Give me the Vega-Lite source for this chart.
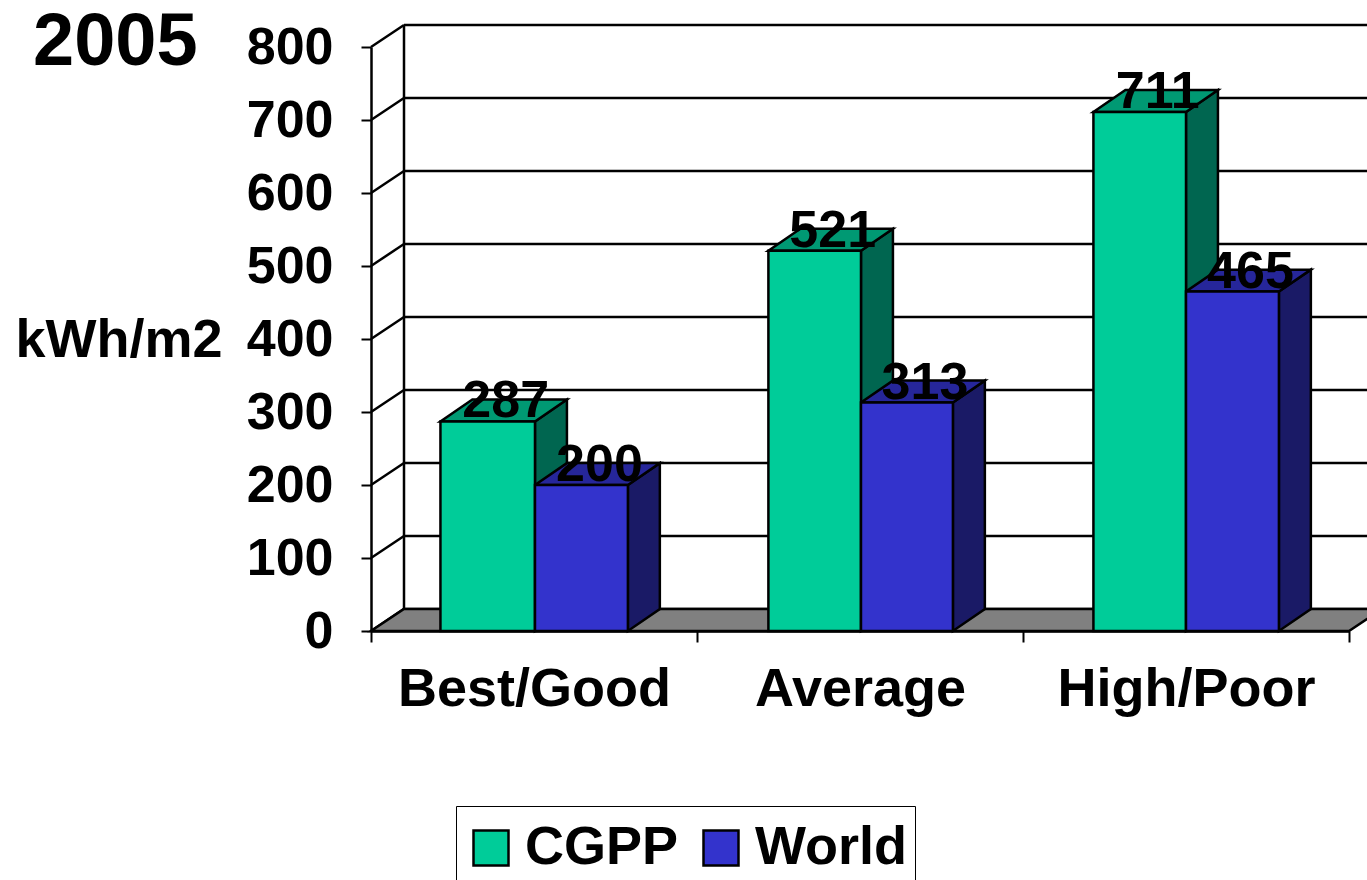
{
"$schema":"https://vega.github.io/schema/vega-lite/v6.json",
"width":978,"height":584,
"autosize":{"type":"none"},
"padding":{"left":371,"top":47,"right":18,"bottom":249},
"background":"white",
"title":{"text":"2005","fontSize":74,"font":"Liberation Sans","fontWeight":"bold","color":"black","anchor":"start","frame":"group","orient":"top","dx":-338,"dy":119,"offset":0,"baseline":"alphabetic"},
"datasets":{
"bars":[
{"category":"Best/Good","series":"CGPP","value":287},
{"category":"Best/Good","series":"World","value":200},
{"category":"Average","series":"CGPP","value":521},
{"category":"Average","series":"World","value":313},
{"category":"High/Poor","series":"CGPP","value":711},
{"category":"High/Poor","series":"World","value":465}],
"ticks":[{"tick":0},{"tick":100},{"tick":200},{"tick":300},{"tick":400},{"tick":500},{"tick":600},{"tick":700},{"tick":800}]
},
"config":{"view":{"stroke":null},"style":{"cell":{"clip":false}}},
"layer":[
{"data":{"name":"ticks"},
 "mark":{"type":"rule","color":"black","strokeWidth":2.5,"xOffset":33,"x2Offset":50,"yOffset":-22,"y2Offset":-22},
 "encoding":{
  "x":{"datum":0,"type":"quantitative","scale":{"domain":[0,3],"nice":false,"zero":false},
   "axis":{"values":[0,0.5,1,1.5,2,2.5,3],"title":null,"grid":false,"domainColor":"black","domainWidth":2.5,"tickColor":"black","tickWidth":2,"tickSize":11,
    "tickOpacity":{"condition":{"test":"datum.value % 1 === 0","value":1},"value":0},
    "labelExpr":"datum.value===0.5?'Best/Good':datum.value===1.5?'Average':datum.value===2.5?'High/Poor':''",
    "labelFont":"Liberation Sans","labelFontWeight":"bold","labelFontSize":54,"labelColor":"black","labelPadding":20,"labelLimit":500,"labelFlush":false,"labelOverlap":false}},
  "x2":{"datum":3},
  "y":{"field":"tick","type":"quantitative","scale":{"domain":[0,800],"nice":false},
   "axis":{"values":[0,100,200,300,400,500,600,700,800],"title":"kWh/m2","titleAngle":0,"titleFont":"Liberation Sans","titleFontWeight":"bold","titleFontSize":54,"titleColor":"black","titleX":-149,"titleY":309,"titleAlign":"right","titleBaseline":"alphabetic",
    "grid":false,"domainColor":"black","domainWidth":2.5,"tickColor":"black","tickWidth":2,"tickSize":10,"labelFont":"Liberation Sans","labelFontWeight":"bold","labelFontSize":52,"labelColor":"black","labelPadding":28}}
 }},
{"data":{"name":"ticks"},
 "mark":{"type":"rule","color":"black","strokeWidth":2.5,"x2Offset":33,"y2Offset":-22},
 "encoding":{"x":{"datum":0,"type":"quantitative"},"x2":{"datum":0},"y":{"field":"tick","type":"quantitative"},"y2":{"field":"tick"}}},
{"data":{"values":[{"tick":0},{"tick":800}]},
 "mark":{"type":"line","color":"black","strokeWidth":2.5,"xOffset":33,"yOffset":-22},
 "encoding":{"x":{"datum":0,"type":"quantitative"},"y":{"field":"tick","type":"quantitative"}}},
{"data":{"values":[{"depth":0},{"depth":30}]},
 "transform":[{"calculate":"datum.depth/30*0.1","as":"xa"},{"calculate":"3+datum.depth/30*0.1","as":"xb"}],
 "mark":{"type":"area","orient":"horizontal","fill":"#808080","stroke":"black","strokeWidth":2.5},
 "encoding":{"y":{"field":"depth","type":"quantitative"},"x":{"field":"xa","type":"quantitative"},"x2":{"field":"xb"}}},
{"data":{"name":"bars"},
 "transform":[
  {"calculate":"indexof(['Best/Good','Average','High/Poor'],datum.category)","as":"idx"},
  {"calculate":"datum.series==='CGPP'?[0.213,1.219,2.216][datum.idx]:[0.503,1.503,2.5][datum.idx]","as":"x1"},
  {"calculate":"datum.series==='CGPP'?[0.503,1.503,2.5][datum.idx]:[0.788,1.785,2.785][datum.idx]","as":"x2"},
  {"calculate":"(datum.x1+datum.x2)/2","as":"xc"},
  {"calculate":"datum.category+datum.series","as":"bar"}],
 "layer":[
  {"transform":[{"calculate":"[0,1]","as":"t"},{"flatten":["t"]},
    {"calculate":"datum.x2+datum.t*0.098","as":"xp"},{"calculate":"datum.value+datum.t*30","as":"yt"},{"calculate":"datum.t*30","as":"yb"}],
   "mark":{"type":"area","stroke":"black","strokeWidth":2.5},
   "encoding":{"x":{"field":"xp","type":"quantitative"},"y":{"field":"yt","type":"quantitative"},"y2":{"field":"yb"},"detail":{"field":"bar"},
    "fill":{"condition":{"test":"datum.series==='CGPP'","value":"#006650"},"value":"#1A1A66"}}},
  {"transform":[{"calculate":"[0,1]","as":"t"},{"flatten":["t"]},
    {"calculate":"datum.x1+datum.t*0.098","as":"xa"},{"calculate":"datum.x2+datum.t*0.098","as":"xb"},{"calculate":"datum.value+datum.t*30","as":"yp"}],
   "mark":{"type":"area","orient":"horizontal","stroke":"black","strokeWidth":2.5},
   "encoding":{"y":{"field":"yp","type":"quantitative"},"x":{"field":"xa","type":"quantitative"},"x2":{"field":"xb"},"detail":{"field":"bar"},
    "fill":{"condition":{"test":"datum.series==='CGPP'","value":"#009973"},"value":"#26269A"}}},
  {"mark":{"type":"rect","stroke":"black","strokeWidth":2.5},
   "encoding":{"x":{"field":"x1","type":"quantitative"},"x2":{"field":"x2"},"y":{"field":"value","type":"quantitative"},"y2":{"datum":0},
    "fill":{"field":"series","type":"nominal","scale":{"domain":["CGPP","World"],"range":["#00CC99","#3333CC"]},
     "legend":{"orient":"none","legendX":85,"legendY":759,"direction":"horizontal","columns":2,"title":" ","titleFontSize":1,"titlePadding":6,"symbolType":"square","symbolSize":1225,"symbolStrokeColor":"black","symbolStrokeWidth":2.5,"labelFont":"Liberation Sans","labelFontWeight":"bold","labelFontSize":54,"labelColor":"black","labelOffset":7,"columnPadding":15,"strokeColor":"black","padding":8,"fillColor":"white","symbolOpacity":1}}}},
  {"mark":{"type":"text","font":"Liberation Sans","fontWeight":"bold","fontSize":52,"color":"black","align":"center","baseline":"alphabetic","dx":18,"dy":-4},
   "encoding":{"x":{"field":"xc","type":"quantitative"},"y":{"field":"value","type":"quantitative"},"text":{"field":"value","type":"quantitative"}}}
 ]}
]}
